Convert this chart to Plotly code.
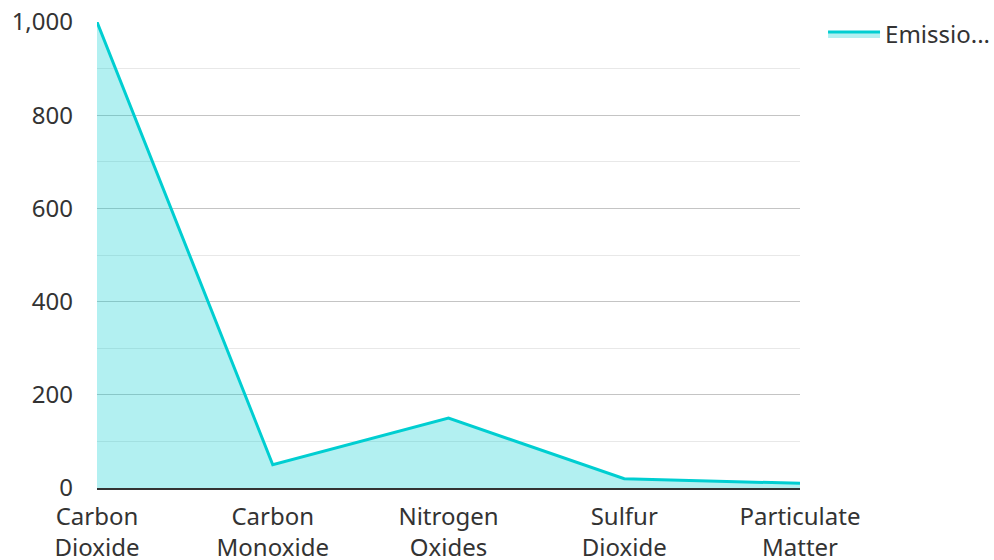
import plotly.graph_objects as go

categories = ["Carbon<br>Dioxide", "Carbon<br>Monoxide", "Nitrogen<br>Oxides", "Sulfur<br>Dioxide", "Particulate<br>Matter"]
emissions = [1000, 50, 150, 20, 10]
series_name = "Emissio..."
y_ticks = [0, 200, 400, 600, 800, 1000]
y_tick_labels = ["0", "200", "400", "600", "800", "1,000"]

fig = go.Figure()
fig.add_trace(go.Scatter(
    x=categories, y=emissions, name=series_name,
    mode="lines", fill="tozeroy",
    line=dict(color="#00CED1", width=3),
    fillcolor="rgba(0,206,209,0.3)",
))

font = "Noto Sans, Open Sans, sans-serif"
fs = 24
fig.update_layout(
    width=994, height=560,
    margin=dict(l=97, r=194, t=22, b=72),
    paper_bgcolor="white", plot_bgcolor="white",
    font=dict(family=font, size=fs, color="#333333"),
    showlegend=True,
    legend=dict(xref="container", yref="container", x=0.828, y=0.9786,
                xanchor="left", yanchor="top", itemwidth=52,
                font=dict(size=fs, color="#333333"), bgcolor="rgba(0,0,0,0)"),
    xaxis=dict(
        type="category", range=[0, 4], showgrid=False, automargin=False,
        showline=True, linecolor="#333333", linewidth=2,
        ticks="", ticklabelstandoff=6,
        tickfont=dict(size=fs, color="#333333"),
    ),
    yaxis=dict(
        range=[0, 1000], tickvals=y_ticks, ticktext=y_tick_labels, automargin=False,
        showgrid=True, gridcolor="#c4c4c4", gridwidth=1,
        minor=dict(dtick=100, showgrid=True, gridcolor="#e8e8e8", gridwidth=1),
        zeroline=False, showline=False, ticks="",
        ticklabelstandoff=23,
        tickfont=dict(size=fs, color="#333333"),
    ),
)

fig.write_html(
    "out.html",
    config={"displayModeBar": False},
    post_script="document.body.style.margin='0px';document.body.style.overflow='hidden';",
)
